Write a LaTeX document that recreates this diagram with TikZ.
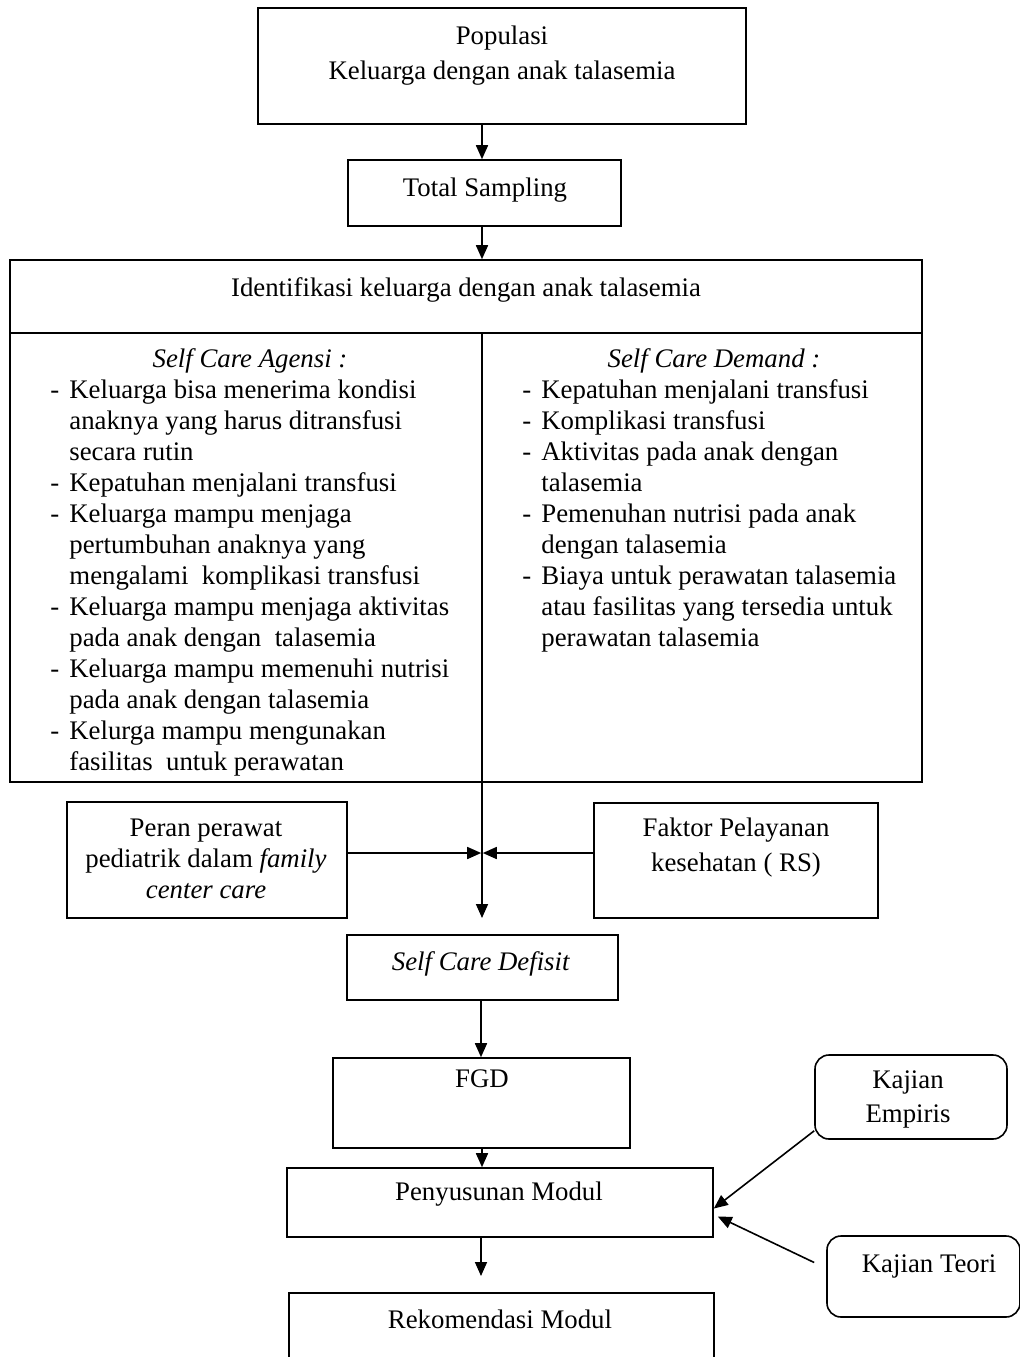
\documentclass[tikz,border=0pt]{standalone}
\usepackage{fontspec}
\setmainfont{Liberation Serif}
\usetikzlibrary{arrows.meta,fit}
\newcommand{\itm}[1]{\makebox[9.5pt][l]{-}#1}
\newcommand{\cnt}[1]{\hspace*{9.5pt}#1}
\begin{document}
\begin{tikzpicture}[x=0.5pt,y=-0.5pt,
  box/.style={draw, line width=0.8pt, inner sep=0pt},
  rbox/.style={box, rounded corners=7pt},
  txt/.style={inner sep=0pt, anchor=base, font=\fontsize{13.4}{15.5}\selectfont},
  lst/.style={inner sep=0pt, anchor=base west, font=\fontsize{13.4}{15.5}\selectfont},
  arr/.style={-{Triangle[length=7pt,width=6pt]}, line width=0.8pt},
  ln/.style={line width=0.8pt}]
\useasboundingbox (0,0) rectangle (1020,1357);
\clip (0,0) rectangle (1020,1357);

% boxes
\node[box, fit={(258,8) (746,124)}] (pop) {};
\node[box, fit={(348,160) (621,226)}] (ts) {};
\node[box, fit={(10,260) (922,333)}] (idh) {};
\node[box, fit={(10,333) (922,782)}] (idb) {};
\node[box, fit={(67,802) (347,918)}] (peran) {};
\node[box, fit={(594,803) (878,918)}] (faktor) {};
\node[box, fit={(347,935) (618,1000)}] (scd) {};
\node[box, fit={(333,1058) (630,1148)}] (fgd) {};
\node[box, fit={(287,1168) (713,1237)}] (pm) {};
\node[box, fit={(289,1293) (714,1400)}] (rm) {};
\node[rbox, fit={(815,1055) (1007,1139)}] (ke) {};
\node[rbox, fit={(827,1236) (1020,1317)}] (kt) {};

% texts
\node[txt] (popa) at (502,44) {Populasi};
\node[txt] (popb) at (502,79) {Keluarga dengan anak talasemia};
\node[txt] (tst) at (485,196) {Total Sampling};
\node[txt] (idt) at (466,296) {Identifikasi keluarga dengan anak talasemia};
\node[txt] (sca) at (250,367) {\textit{Self Care Agensi :}};
\node[txt] (scdm) at (714,367) {\textit{Self Care Demand :}};
\node[lst] (lista) at (50,398) {\begin{tabular}[t]{@{}l@{}}
\itm{Keluarga bisa menerima kondisi}\\
\cnt{anaknya yang harus ditransfusi}\\
\cnt{secara rutin}\\
\itm{Kepatuhan menjalani transfusi}\\
\itm{Keluarga mampu menjaga}\\
\cnt{pertumbuhan anaknya yang}\\
\cnt{mengalami\ \ komplikasi transfusi}\\
\itm{Keluarga mampu menjaga aktivitas}\\
\cnt{pada anak dengan\ \ talasemia}\\
\itm{Keluarga mampu memenuhi nutrisi}\\
\cnt{pada anak dengan talasemia}\\
\itm{Kelurga mampu mengunakan}\\
\cnt{fasilitas\ \ untuk perawatan}
\end{tabular}};
\node[lst] (listb) at (522,398) {\begin{tabular}[t]{@{}l@{}}
\itm{Kepatuhan menjalani transfusi}\\
\itm{Komplikasi transfusi}\\
\itm{Aktivitas pada anak dengan}\\
\cnt{talasemia}\\
\itm{Pemenuhan nutrisi pada anak}\\
\cnt{dengan talasemia}\\
\itm{Biaya untuk perawatan talasemia}\\
\cnt{atau fasilitas yang tersedia untuk}\\
\cnt{perawatan talasemia}
\end{tabular}};
\node[txt] (pera) at (206,836) {Peran perawat};
\node[txt] (perb) at (206,867) {pediatrik dalam \textit{family}};
\node[txt] (perc) at (206,898) {\textit{center care}};
\node[txt] (fa) at (736,836) {Faktor Pelayanan};
\node[txt] (fb) at (736,871) {kesehatan ( RS)};
\node[txt] (scdt) at (481,970) {\textit{Self Care Defisit}};
\node[txt] (fgdt) at (482,1087) {FGD};
\node[txt] (pmt) at (499,1200) {Penyusunan Modul};
\node[txt] (rmt) at (500,1328) {Rekomendasi Modul};
\node[txt] (kea) at (908,1088) {Kajian};
\node[txt] (keb) at (908,1122) {Empiris};
\node[txt] (ktt) at (929,1272) {Kajian Teori};

% connectors
\coordinate (dv) at (482,333);
\coordinate (dvend) at (482,918);
\coordinate (mid) at (482,853);
\draw[arr] (pop.south -| 482,0) -- (ts.north -| 482,0);
\draw[arr] (ts.south -| 482,0) -- (idh.north -| 482,0);
\draw[arr] (dv) -- (dvend);
\draw[arr] (peran.east |- mid) -- ([xshift=-0.4pt]mid);
\draw[arr] (faktor.west |- mid) -- ([xshift=0.4pt]mid);
\draw[arr] (scd.south -| 481,0) -- (fgd.north -| 481,0);
\draw[arr] (fgd.south -| 482,0) -- (pm.north -| 482,0);
\draw[arr] (pm.south -| 481,0) -- (481,1276);
\draw[arr] ([yshift=4.5pt]ke.south west) -- ([yshift=-3pt]pm.east);
\draw[arr] ([xshift=-6pt,yshift=7pt]kt.west) -- ([xshift=2pt,yshift=-7pt]pm.east);
\end{tikzpicture}
\end{document}
